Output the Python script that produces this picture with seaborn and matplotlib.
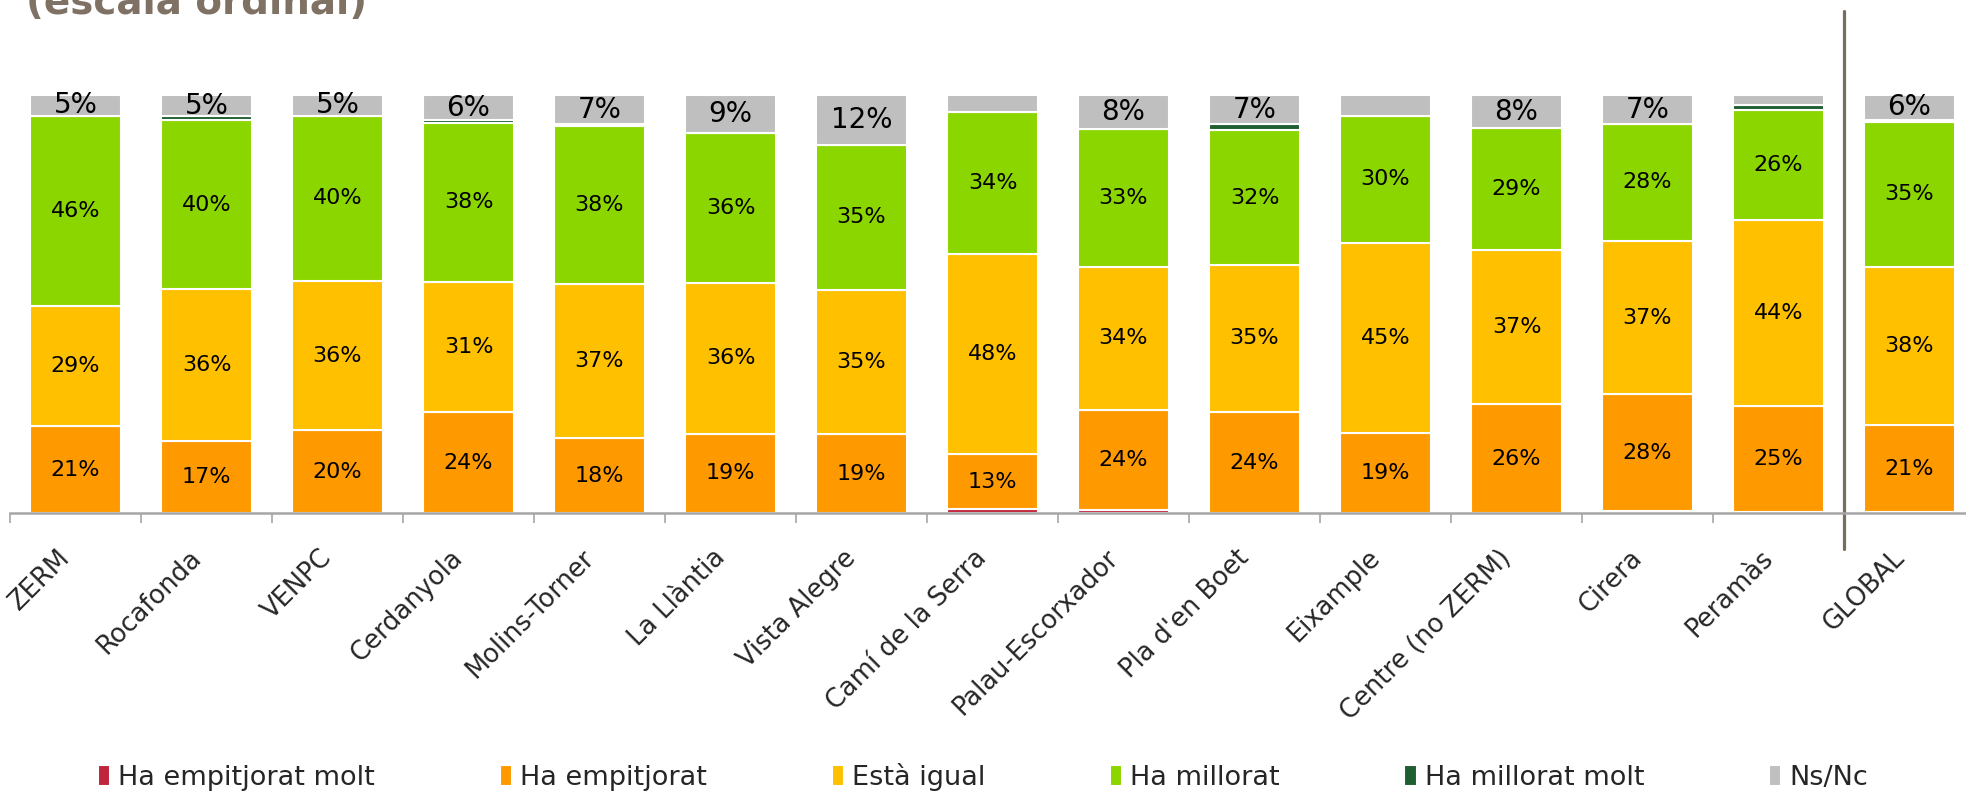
import numpy as np
import matplotlib
matplotlib.use("Agg")
import matplotlib.pyplot as plt
import seaborn as sns

# categories (neighbourhoods)
barris = ["ZERM", "Rocafonda", "VENPC", "Cerdanyola", "Molins-Torner", "La Llàntia",
          "Vista Alegre", "Camí de la Serra", "Palau-Escorxador", "Pla d'en Boet",
          "Eixample", "Centre (no ZERM)", "Cirera", "Peramàs", "GLOBAL"]

# percentages
empitjorat_molt = [0, 0, 0, 0, 0, 0, 0, 1.0, 0.6, 0, 0, 0, 0.5, 0.3, 0.2]
empitjorat = [21, 17, 20, 24, 18, 19, 19, 13, 24, 24, 19, 26, 28, 25, 21]
igual = [29, 36, 36, 31, 37, 36, 35, 48, 34, 35, 45, 37, 37, 44, 38]
millorat = [46, 40, 40, 38, 38, 36, 35, 34, 33, 32, 30, 29, 28, 26, 35]
millorat_molt = [0, 1, 0, 0.6, 0.5, 0, 0, 0, 0, 1.4, 0, 0, 0, 1.3, 0.4]
nsnc = [5, 5, 5, 6, 7, 9, 12, 4, 8, 7, 5, 8, 7, 2.3, 6]
nsnc_labels = ["5%", "5%", "5%", "6%", "7%", "9%", "12%", "", "8%", "7%", "", "8%", "7%", "", "6%"]

series_names = ["Ha empitjorat molt", "Ha empitjorat", "Està igual", "Ha millorat",
                "Ha millorat molt", "Ns/Nc"]
series_vals = [empitjorat_molt, empitjorat, igual, millorat, millorat_molt, nsnc]
colors = ["#C0243A", "#FF9900", "#FFC000", "#8CD600", "#1E5E30", "#BFBFBF"]
show_label = [False, True, True, True, False, False]

sns.set_style("white")
plt.rcParams['font.family'] = ['DejaVu Sans']

fig = plt.figure(figsize=(19.66, 7.93), dpi=100)
ax_w = 1956 / 1966
ax = fig.add_axes([10 / 1966, 0.3531, ax_w, 0.5271])

data = np.array(series_vals, dtype=float)
totals = data.sum(axis=0)
frac = data / totals

bottom = np.zeros(len(barris))
for name, vals, col, lab, raw in zip(series_names, frac, colors, show_label, data):
    sns.barplot(x=barris, y=vals, bottom=bottom.copy(), color=col, width=0.7,
                edgecolor="white", linewidth=1.5, label=name, ax=ax, saturation=1)
    if lab:
        for i, (v, b, r) in enumerate(zip(vals, bottom, raw)):
            ax.text(i, b + v / 2, f"{int(round(r))}%", ha="center", va="center",
                    fontsize=16, color="black")
    bottom = bottom + vals

# Ns/Nc labels at top
for i, t in enumerate(nsnc_labels):
    if t:
        ax.text(i, 1 - frac[5][i] / 2, t, ha="center", va="center", fontsize=20, color="black")

ax.set_ylim(0, 1)
ax.set_xlim(-0.5, -0.5 + 1956 / 131)
ax.set_yticks([])
ax.set_ylabel("")
for s in ["left", "right", "top"]:
    ax.spines[s].set_visible(False)
ax.spines["bottom"].set_color("#A6A6A6")
ax.spines["bottom"].set_linewidth(1.8)

ax.set_xticks(np.arange(len(barris)))
ax.set_xticklabels(barris, rotation=45, ha="right", va="top", fontsize=18.5)
ax.set_xticks(np.arange(len(barris)) - 0.5, minor=True)
ax.tick_params(axis="x", which="major", length=0, pad=23)
ax.tick_params(axis="x", which="minor", length=7, width=1.2, color="#A6A6A6", bottom=True)

# separator before GLOBAL
ax.plot([13.5, 13.5], [-0.086, 1.2], color="#786C5E", lw=2.3, clip_on=False)

if ax.legend_:
    ax.legend_.remove()
handles, labels = ax.get_legend_handles_labels()
fig.legend(handles, labels, loc="center", bbox_to_anchor=(0.5, 0.02), ncol=6,
           frameon=False, fontsize=19.5, handlelength=0.45, handleheight=0.8,
           handletextpad=0.3, columnspacing=4.6)

fig.text(26 / 1966, 1 - 14 / 793, "(escala ordinal)", fontsize=28, fontweight="bold",
         color="#7F7264", va="baseline", ha="left")

fig.savefig("out.png", dpi=100)
